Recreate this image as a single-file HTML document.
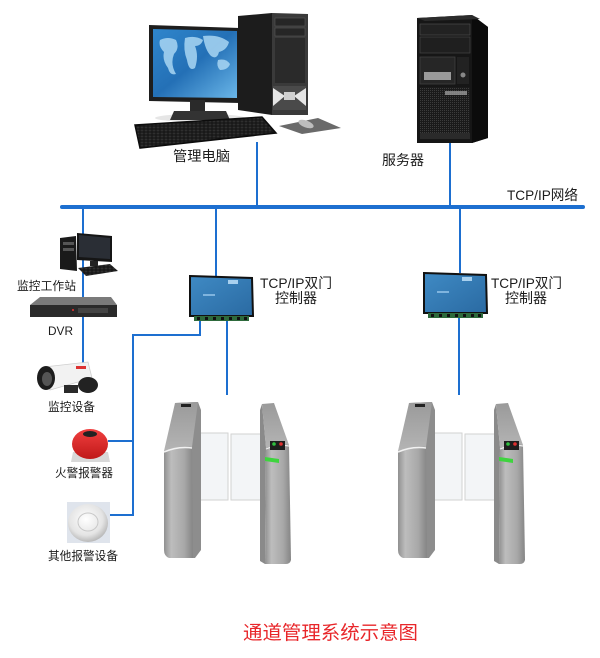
<!DOCTYPE html>
<html><head><meta charset="utf-8">
<style>
html,body{margin:0;padding:0;background:#fff;}
svg{display:block;}
text{font-family:"Liberation Sans","Noto Sans CJK SC",sans-serif;fill:#1c1c1c;}
</style></head><body>
<svg width="600" height="658" viewBox="0 0 600 658" xmlns="http://www.w3.org/2000/svg">
<defs>
 <linearGradient id="scr" x1="0" y1="0" x2="1" y2="1">
   <stop offset="0" stop-color="#2f86cc"/><stop offset="0.5" stop-color="#2470b6"/><stop offset="1" stop-color="#6ab6e8"/>
 </linearGradient>
 <linearGradient id="ctrl" x1="0" y1="0" x2="1" y2="1">
   <stop offset="0" stop-color="#3f8ac4"/><stop offset="1" stop-color="#2a6aa2"/>
 </linearGradient>
 <linearGradient id="post" x1="0" y1="0" x2="1" y2="0">
   <stop offset="0" stop-color="#909090"/><stop offset="0.25" stop-color="#bdbdbd"/><stop offset="0.7" stop-color="#a8a8a8"/><stop offset="1" stop-color="#858585"/>
 </linearGradient>
 <linearGradient id="top" x1="0" y1="0" x2="0" y2="1">
   <stop offset="0" stop-color="#9a9a9a"/><stop offset="1" stop-color="#b4b4b4"/>
 </linearGradient>
 <linearGradient id="bell" x1="0" y1="0" x2="0" y2="1">
   <stop offset="0" stop-color="#f04040"/><stop offset="1" stop-color="#c01818"/>
 </linearGradient>
 <radialGradient id="dome" cx="0.45" cy="0.4" r="0.6">
   <stop offset="0" stop-color="#ffffff"/><stop offset="0.7" stop-color="#e4e4e4"/><stop offset="1" stop-color="#b9b9b9"/>
 </radialGradient>
 <pattern id="mesh" width="2" height="2" patternUnits="userSpaceOnUse"><rect width="2" height="2" fill="#1a1a1a"/><rect width="1" height="1" fill="#3c3c3c"/></pattern>
 <pattern id="keys" width="4" height="3" patternUnits="userSpaceOnUse"><rect width="4" height="3" fill="#121212"/><rect x="0.5" y="0.5" width="3" height="2" fill="#2f2f2f"/></pattern>

 <g id="ctl">
   <polygon points="190,276 252,278 253,316 190,316" fill="url(#ctrl)" stroke="#111" stroke-width="2"/>
   <rect x="228" y="280" width="10" height="4" fill="#a8d0ee"/>
   <rect x="203" y="294" width="12" height="2" fill="#7fb4de"/>
   <rect x="194" y="316" width="55" height="5" fill="#2e6a3c"/>
   <g fill="#111"><rect x="197" y="317" width="3" height="3"/><rect x="205" y="317" width="3" height="3"/><rect x="213" y="317" width="3" height="3"/><rect x="221" y="317" width="3" height="3"/><rect x="229" y="317" width="3" height="3"/><rect x="237" y="317" width="3" height="3"/><rect x="244" y="317" width="3" height="3"/></g>
 </g>

 <g id="ts">
   <!-- glass -->
   <rect x="193" y="433" width="35" height="67" fill="#f3f5f7" stroke="#d2d2d2" stroke-width="1"/>
   <rect x="231" y="434" width="33" height="66" fill="#f3f5f7" stroke="#d2d2d2" stroke-width="1"/>
   <!-- left post -->
   <polygon points="175,403 198,402 201,410 201,550 195,558 191,558 191,448" fill="#8d8d8d"/>
   <polygon points="175,403 198,402 192,447 164,451" fill="url(#top)"/>
   <path d="M164,451 Q178,445 192,447 L193,558 L169,558 Q164,556 164,550 Z" fill="url(#post)"/>
   <path d="M164,452 Q178,446 192,448" fill="none" stroke="#f2f2f2" stroke-width="1.5"/>
   <rect x="181" y="404" width="10" height="3" fill="#222"/>
   <!-- right post -->
   <polygon points="262,404 266,447 265,564 260,561 260,410" fill="#8a8a8a"/>
   <polygon points="262,404 274,403 289,445 266,448" fill="url(#top)"/>
   <path d="M266,448 Q278,443 289,445 L291,560 Q290,564 286,564 L265,564 Z" fill="url(#post)"/>
   <path d="M266,449 Q278,444 289,446" fill="none" stroke="#f0f0f0" stroke-width="1.2"/>
   <rect x="270" y="441" width="15" height="9" fill="#1e1e1e"/>
   <circle cx="274" cy="444" r="1.8" fill="#2fbf3f"/><circle cx="281" cy="444" r="1.8" fill="#e03030"/>
   <polygon points="265,457 279,459 279,463 265,461" fill="#3ed43e"/>
 </g>
</defs>

<!-- connection lines -->
<g stroke="#1d6fd0" fill="none">
  <line x1="62" y1="207" x2="583" y2="207" stroke-width="4" stroke-linecap="round"/>
  <line x1="257" y1="142" x2="257" y2="207" stroke-width="2"/>
  <line x1="450" y1="143" x2="450" y2="207" stroke-width="2"/>
  <line x1="83" y1="207" x2="83" y2="380" stroke-width="2"/>
  <line x1="216" y1="207" x2="216" y2="276" stroke-width="2"/>
  <line x1="460" y1="207" x2="460" y2="273" stroke-width="2"/>
  <polyline points="200,318 200,335 133,335 133,516" stroke-width="2"/>
  <line x1="108" y1="441" x2="133" y2="441" stroke-width="2"/>
  <line x1="109" y1="515" x2="133" y2="515" stroke-width="2"/>
  <line x1="227" y1="318" x2="227" y2="395" stroke-width="2"/>
  <line x1="459" y1="315" x2="459" y2="395" stroke-width="2"/>
</g>

<!-- management PC -->
<ellipse cx="200" cy="118" rx="45" ry="4" fill="#e6e6e6"/>
<polygon points="149,25 240,28 240,103 149,101" fill="#1e1e1e"/>
<polygon points="153,29 237,31 237,98 153,97" fill="url(#scr)"/>
<g fill="#a9d6f3" opacity="0.85">
  <path d="M160,40 q8,-4 16,0 q4,8 -2,14 q-4,10 2,20 q-6,2 -8,-6 q-6,-8 -4,-16 q-6,-6 -4,-12z"/>
  <path d="M185,38 q10,-3 18,2 q-2,6 -8,6 q4,10 0,22 q-6,4 -8,-8 q-4,-10 -2,-22z"/>
  <path d="M203,36 q16,-2 26,6 q-2,8 -10,10 q-2,8 -8,4 q-6,-6 -8,-20z"/>
  <path d="M218,60 q8,-2 12,4 q-2,6 -10,6 q-4,-4 -2,-10z"/>
</g>
<rect x="190" y="100" width="15" height="12" fill="#2a2a2a"/>
<polygon points="174,111 226,111 230,120 170,120" fill="#333"/>
<!-- tower -->
<polygon points="238,16 272,13 272,115 238,110" fill="#1c1c1c"/>
<polygon points="272,13 308,14 308,115 272,115" fill="#3a3a3a"/>
<rect x="275" y="18" width="30" height="8" fill="#262626" stroke="#555" stroke-width="0.6"/>
<rect x="275" y="28" width="30" height="8" fill="#262626" stroke="#555" stroke-width="0.6"/>
<rect x="275" y="38" width="30" height="45" fill="#2a2a2a"/>
<path d="M273,86 L306,86 L306,110 L273,110 Z" fill="#4a4a4a"/>
<path d="M273,88 L285,96 L273,106 Z M306,88 L294,96 L306,106 Z" fill="#e6e6e6"/>
<rect x="284" y="92" width="11" height="8" fill="#d0d0d0"/>
<!-- keyboard -->
<polygon points="135,125 262,117 276,133 140,148" fill="url(#keys)" stroke="#0c0c0c" stroke-width="1.5"/>
<!-- mouse pad + mouse -->
<polygon points="279,126 318,118 341,128 302,134" fill="#6a6a6a"/>
<ellipse cx="306" cy="124" rx="8" ry="3.5" fill="#bdbdbd" transform="rotate(20 306 124)"/>

<text x="173" y="161" font-size="14" textLength="57" lengthAdjust="spacingAndGlyphs">管理电脑</text>

<!-- server -->
<polygon points="417,18 472,15 488,27 488,138 472,143 417,143" fill="#161616"/>
<polygon points="472,15 488,27 488,138 472,143" fill="#0b0b0b"/>
<polygon points="417,18 472,15 480,19 425,21" fill="#2c2c2c"/>
<rect x="420" y="24" width="50" height="11" fill="#222" stroke="#4a4a4a" stroke-width="0.7"/>
<rect x="420" y="37" width="50" height="16" fill="#1f1f1f" stroke="#444" stroke-width="0.7"/>
<rect x="420" y="57" width="35" height="27" fill="#262626" stroke="#444" stroke-width="0.7"/>
<rect x="424" y="72" width="27" height="8" fill="#9a9a9a"/>
<rect x="457" y="57" width="12" height="27" fill="#222"/>
<circle cx="463" cy="75" r="2.5" fill="#888"/>
<rect x="420" y="87" width="50" height="50" fill="url(#mesh)"/>
<rect x="445" y="91" width="22" height="4" fill="#aaa" opacity="0.7"/>
<rect x="420" y="133" width="50" height="6" fill="#2a2a2a"/>

<text x="382" y="165" font-size="14" textLength="42" lengthAdjust="spacingAndGlyphs">服务器</text>
<text x="507" y="200" font-size="14" textLength="71" lengthAdjust="spacingAndGlyphs">TCP/IP网络</text>

<!-- workstation -->
<polygon points="60,238 76,236 77,271 60,269" fill="#1a1a1a"/>
<rect x="63" y="242" width="11" height="3" fill="#555"/>
<rect x="63" y="248" width="11" height="3" fill="#555"/>
<polygon points="77,233 112,236 112,262 77,260" fill="#151515"/>
<polygon points="79,235 110,238 110,259 79,257" fill="#2a2e35"/>
<rect x="90" y="261" width="8" height="5" fill="#222"/>
<polygon points="78,268 110,264 118,271 86,276" fill="url(#keys)"/>
<text x="17" y="290" font-size="12" textLength="59" lengthAdjust="spacingAndGlyphs">监控工作站</text>

<!-- DVR -->
<polygon points="40,297 111,297 117,305 30,305" fill="#7a7a7a"/>
<rect x="30" y="305" width="87" height="12" fill="#2a2a2a"/>
<rect x="78" y="308" width="30" height="5" fill="#444"/>
<circle cx="73" cy="310" r="1" fill="#e33"/>
<text x="48" y="335" font-size="12" textLength="25" lengthAdjust="spacingAndGlyphs">DVR</text>

<!-- camera -->
<polygon points="44,367 88,362 92,378 50,390" fill="#f2f2f2" stroke="#cfcfcf" stroke-width="0.8"/>
<ellipse cx="46" cy="378" rx="9" ry="12" fill="#1d1d1d"/>
<ellipse cx="47" cy="379" rx="5" ry="7" fill="#555"/>
<rect x="76" y="366" width="10" height="3" fill="#d33"/>
<ellipse cx="88" cy="385" rx="10" ry="8" fill="#222"/>
<rect x="64" y="385" width="14" height="8" fill="#2a2a2a"/>
<text x="48" y="411" font-size="12" textLength="47" lengthAdjust="spacingAndGlyphs">监控设备</text>

<!-- fire bell -->
<polygon points="73,452 108,452 110,462 71,462" fill="#d8d8d8"/>
<ellipse cx="90" cy="444" rx="18" ry="15" fill="url(#bell)"/>
<ellipse cx="90" cy="434" rx="7" ry="3" fill="#222"/>
<text x="55" y="477" font-size="12" textLength="58" lengthAdjust="spacingAndGlyphs">火警报警器</text>

<!-- other alarm -->
<rect x="67" y="502" width="43" height="41" fill="#dfe4ec"/>
<ellipse cx="88" cy="523" rx="20" ry="19" fill="url(#dome)"/>
<ellipse cx="88" cy="522" rx="10" ry="9" fill="none" stroke="#c8c8c8" stroke-width="1"/>
<text x="48" y="560" font-size="12" textLength="70" lengthAdjust="spacingAndGlyphs">其他报警设备</text>

<!-- controllers -->
<use href="#ctl"/>
<use href="#ctl" transform="translate(234,-3)"/>
<text x="260" y="288" font-size="14" textLength="72" lengthAdjust="spacingAndGlyphs">TCP/IP双门</text>
<text x="275" y="303" font-size="14" textLength="42" lengthAdjust="spacingAndGlyphs">控制器</text>
<text x="491" y="288" font-size="14" textLength="71" lengthAdjust="spacingAndGlyphs">TCP/IP双门</text>
<text x="505" y="303" font-size="14" textLength="42" lengthAdjust="spacingAndGlyphs">控制器</text>

<!-- turnstiles -->
<use href="#ts"/>
<use href="#ts" transform="translate(234,0)"/>

<!-- title -->
<text x="243" y="639" font-size="19" textLength="175" lengthAdjust="spacingAndGlyphs" style="fill:#e8262a">通道管理系统示意图</text>
</svg>
</body></html>
